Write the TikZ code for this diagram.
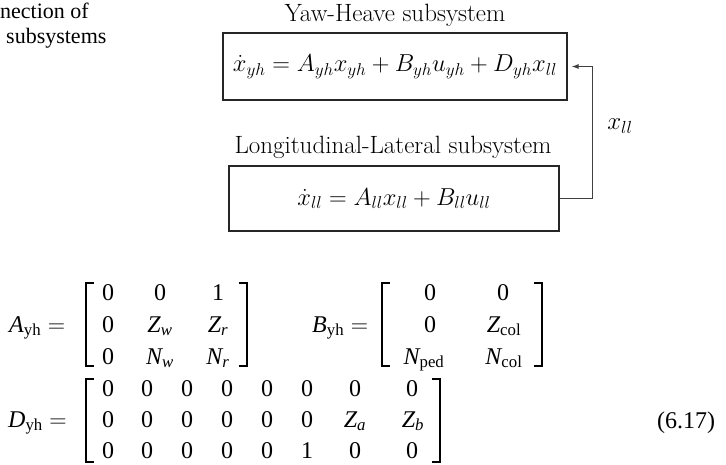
\documentclass[tikz,border=0pt]{standalone}
\usepackage{fix-cm}
\usepackage{amsmath}
\usepackage{fontspec}
\newfontfamily\bookfont{Liberation Serif}
\usepackage{tikz}
\usetikzlibrary{arrows.meta,positioning}

\begin{document}
\begin{tikzpicture}[x=1pt,y=-1pt,
  sysbox/.style={rectangle, draw=black!85, line width=1.1pt, inner sep=0pt, font=\fontsize{24.5}{29}\selectfont},
  syslabel/.style={anchor=base, inner sep=0pt, font=\fontsize{25}{30}\selectfont},
  feed/.style={-{Latex[length=7pt,width=5pt]}, line width=1.1pt, black!75, shorten >=4pt},
  book/.style={anchor=base west, inner sep=0pt, font=\bookfont\fontsize{24}{28}\selectfont},
  entry/.style={anchor=base, inner sep=0pt, font=\bookfont\fontsize{24}{28}\selectfont},
  brk/.style={line width=1.6pt}
]
  \useasboundingbox (0,0) rectangle (726,464);

  % caption fragment
  \node[book, font=\bookfont\fontsize{22}{26}\selectfont] (capa) at (0,18) {nection of};
  \node[book, font=\bookfont\fontsize{22}{26}\selectfont] (capb) at (6,43) {subsystems};

  % the two subsystems
  \node[syslabel] (yhlabel) at (395,21) {Yaw-Heave subsystem};
  \node[sysbox, minimum width=344pt, minimum height=67pt] (yhbox) at (395,66.5)
    {$\dot{x}_{yh} = A_{yh}x_{yh} + B_{yh}u_{yh} + D_{yh}x_{ll}$};
  \node[syslabel] (lllabel) at (393,153) {Longitudinal-Lateral subsystem};
  \node[sysbox, minimum width=330pt, minimum height=65pt] (llbox) at (394,198.5)
    {$\dot{x}_{ll} = A_{ll}x_{ll} + B_{ll}u_{ll}$};

  \draw[feed] (llbox.east) -- ++(33,0) coordinate (turn) |- (yhbox.east);
  \node[font=\fontsize{25}{30}\selectfont] (xll) at (620,126) {$x_{ll}$};

  % matrices
  \node[book] (Alab) at (9,332) {$\textit{A}_{\text{yh}} =$};
  \draw[brk] (94,283) -| (86,366) -- (94,366);
  \draw[brk] (239,283) -| (247,366) -- (239,366);
  \foreach \c/\x in {0/108,0/160,1/218} \node[entry] at (\x,300) {\c};
  \node[entry] (a21) at (108,332) {0};
  \node[entry] (a22) at (160,332) {$\textit{Z}_{\textit{w}}$};
  \node[entry] (a23) at (218,332) {$\textit{Z}_{\textit{r}}$};
  \node[entry] (a31) at (108,364) {0};
  \node[entry] (a32) at (160,364) {$\textit{N}_{\textit{w}}$};
  \node[entry] (a33) at (218,364) {$\textit{N}_{\textit{r}}$};

  \node[book] (Blab) at (312,332) {$\textit{B}_{\text{yh}} =$};
  \draw[brk] (390,283) -| (382,366) -- (390,366);
  \draw[brk] (534,283) -| (542,366) -- (534,366);
  \node[entry] (b11) at (430,300) {0};
  \node[entry] (b12) at (503,300) {0};
  \node[entry] (b21) at (430,332) {0};
  \node[entry] (b22) at (504,332) {$\textit{Z}_{\text{col}}$};
  \node[entry] (b31) at (424,364) {$\textit{N}_{\text{ped}}$};
  \node[entry] (b32) at (504,364) {$\textit{N}_{\text{col}}$};

  \node[book] (Dlab) at (8,427) {$\textit{D}_{\text{yh}} =$};
  \draw[brk] (94,379) -| (86,462) -- (94,462);
  \draw[brk] (432,379) -| (440,462) -- (432,462);
  \foreach \x in {108,147,187,227,267,307,355,412} \node[entry] at (\x,396) {0};
  \foreach \x in {108,147,187,227,267,307} \node[entry] at (\x,427) {0};
  \node[entry] (d27) at (355,427) {$\textit{Z}_{\textit{a}}$};
  \node[entry] (d28) at (413,427) {$\textit{Z}_{\textit{b}}$};
  \foreach \c/\x in {0/108,0/147,0/187,0/227,0/267,1/307,0/355,0/412} \node[entry] at (\x,458) {\c};

  \node[book] (eqno) at (657,428) {(6.17)};
\end{tikzpicture}
\end{document}
